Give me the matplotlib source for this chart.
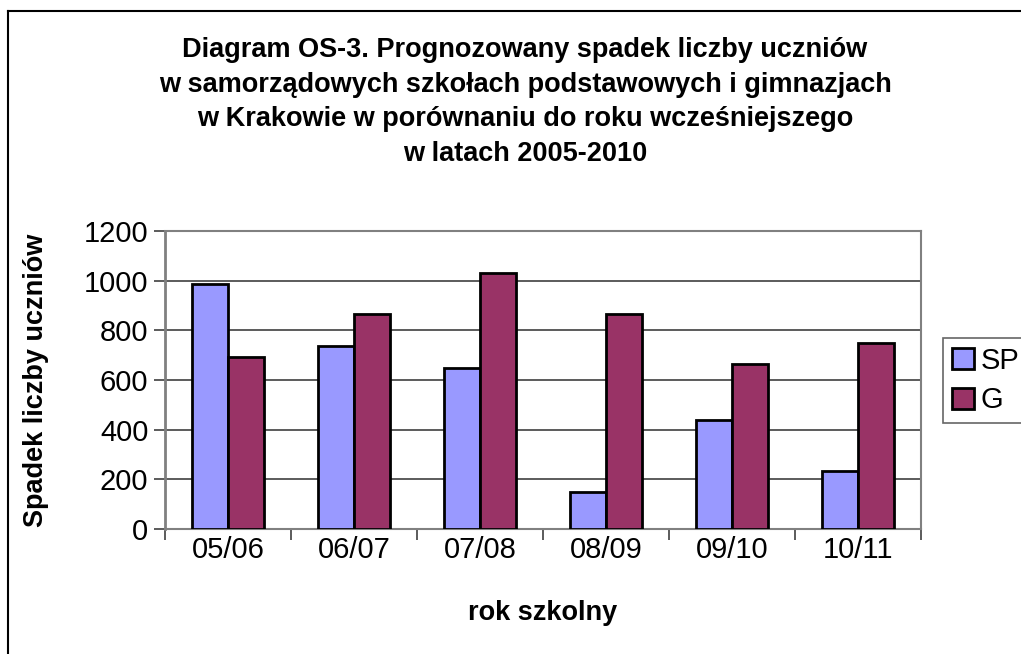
import numpy as np
import matplotlib.pyplot as plt
from matplotlib.lines import Line2D

# DATA
years = ['05/06', '06/07', '07/08', '08/09', '09/10', '10/11']
sp = [985, 735, 650, 150, 438, 232]
g = [692, 867, 1030, 865, 664, 750]

plt.rcParams['font.family'] = ['Liberation Sans', 'DejaVu Sans']

W, H = 1021, 654
fig = plt.figure(figsize=(W / 100, H / 100), dpi=100)
ax = fig.add_axes([165 / W, 1 - 529 / H, (921 - 165) / W, (529 - 231) / H])

x = np.arange(len(years))
bw = 0.286
ax.bar(x - bw / 2, sp, bw, color='#9999FF', edgecolor='black', linewidth=2, label='SP', zorder=3)
ax.bar(x + bw / 2, g, bw, color='#993366', edgecolor='black', linewidth=2, label='G', zorder=3)

ax.set_xlim(-0.5, len(years) - 0.5)
ax.set_ylim(0, 1200)
ax.set_yticks(range(0, 1201, 200))
ax.yaxis.grid(True, color='#404040', linewidth=1.2, zorder=0)
ax.set_axisbelow(True)

# category labels between boundary ticks
ax.set_xticks(np.arange(-0.5, len(years), 1))
ax.set_xticklabels([])
ax.set_xticks(x, minor=True)
ax.set_xticklabels(years, minor=True, fontsize=21)
ax.tick_params(axis='x', which='minor', length=0, pad=5)
ax.tick_params(axis='x', which='major', length=8, width=1.2, color='#404040')
ax.tick_params(axis='y', labelsize=21, length=8, width=1.2, color='#404040', pad=4)

for s in ax.spines.values():
    s.set_color('#808080')
    s.set_linewidth(1.5)
ax.spines['left'].set_linewidth(2)

ax.set_xlabel('rok szkolny', fontsize=19.5, fontweight='bold', labelpad=26)
ax.set_ylabel('Spadek liczby uczniów', fontsize=19.5, fontweight='bold', labelpad=25)

fig.text(525 / W, 1 - 102 / H,
         'Diagram OS-3. Prognozowany spadek liczby uczniów\n'
         'w samorządowych szkołach podstawowych i gimnazjach\n'
         'w Krakowie w porównaniu do roku wcześniejszego\n'
         'w latach 2005-2010',
         ha='center', va='center', fontsize=19.5, fontweight='bold', linespacing=1.42)

leg = fig.legend(loc='upper left', bbox_to_anchor=(943 / W, 1 - 338 / H),
                 fontsize=21, frameon=True, fancybox=False, edgecolor='#404040',
                 handlelength=0.75, handleheight=0.75, handletextpad=0.25,
                 borderpad=0.3, labelspacing=0.4, borderaxespad=0)
leg.get_frame().set_linewidth(1.2)

# outer chart border (left and top visible)
fig.add_artist(Line2D([8 / W, 8 / W], [0, 1 - 11 / H], color='black', linewidth=1.5, transform=fig.transFigure))
fig.add_artist(Line2D([8 / W, 1], [1 - 11 / H, 1 - 11 / H], color='black', linewidth=1.5, transform=fig.transFigure))

fig.savefig('out.png', dpi=100)
